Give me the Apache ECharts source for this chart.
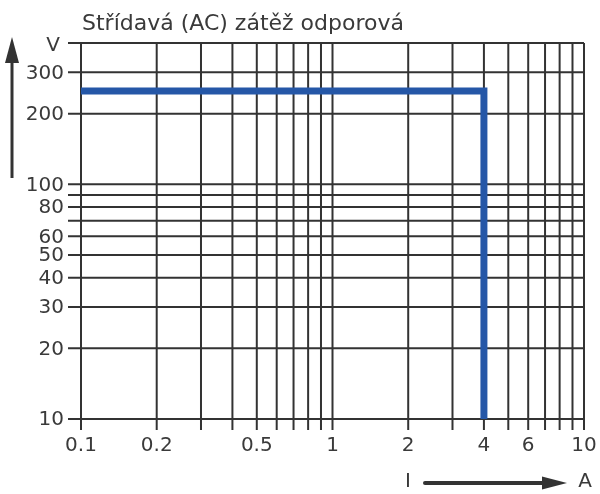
<!DOCTYPE html>
<html><head><meta charset="utf-8">
<script src="https://cdn.jsdelivr.net/npm/echarts@6/dist/echarts.min.js"></script>
<style>html,body{margin:0;padding:0;background:#fff}#c{width:600px;height:494px}</style>
</head><body><div id="c"></div>
<script>
const title = 'Střídavá (AC) zátěž odporová';
const xGrid = [0.1,0.2,0.3,0.4,0.5,0.6,0.7,0.8,0.9,1,2,3,4,5,6,7,8,9,10];
const yGrid = [10,20,30,40,50,60,70,80,90,100,200,300,400];
const xLabels = [0.1,0.2,0.5,1,2,4,6,10];
const yLabels = [10,20,30,40,50,60,80,100,200,300];
const yUnitValue = 400, yUnit = 'V';
const xName = 'I', xUnit = 'A';
const currentA = [0.1, 4, 4];
const voltageV = [250, 250, 10];

const FAM = '"DejaVu Sans", "Liberation Sans", Arial, sans-serif';
const FONT = '20px ' + FAM;
const TXT = '#3a3a3a';
const GRIDC = '#333';
const xMin = 0.1, xMax = 10, yMin = 10, yMax = 400;

const chart = echarts.init(document.getElementById('c'));
chart.setOption({
  animation: false,
  title: { text: title, left: 77, top: 8, textStyle: { fontFamily: FAM, fontSize: 22, fontWeight: 'normal', color: TXT } },
  grid: { left: 81, right: 16, top: 43, bottom: 75 },
  xAxis: { type: 'log', logBase: 10, min: xMin, max: xMax, axisLine:{show:false}, axisTick:{show:false}, axisLabel:{show:false}, splitLine:{show:false} },
  yAxis: { type: 'log', logBase: 10, min: yMin, max: yMax, axisLine:{show:false}, axisTick:{show:false}, axisLabel:{show:false}, splitLine:{show:false} },
  series: [
    { type: 'custom', z: 1, silent: true, clip: false,
      data: xGrid.map(v => [v, yMin]),
      renderItem: (params, api) => {
        const v = api.value(0);
        const t = api.coord([v, yMax]), b = api.coord([v, yMin]);
        return { type: 'line', shape: { x1: t[0], y1: t[1], x2: t[0], y2: b[1] + 11 }, style: { stroke: GRIDC, lineWidth: 2 } };
      } },
    { type: 'custom', z: 1, silent: true, clip: false,
      data: yGrid.map(v => [xMin, v]),
      renderItem: (params, api) => {
        const v = api.value(1);
        const l = api.coord([xMin, v]), r = api.coord([xMax, v]);
        return { type: 'line', shape: { x1: l[0] - 13, y1: l[1], x2: r[0], y2: l[1] }, style: { stroke: GRIDC, lineWidth: 2 } };
      } },
    { type: 'custom', z: 2, silent: true, clip: false,
      data: xLabels.map(v => [v, yMin]),
      renderItem: (params, api) => {
        const v = api.value(0);
        const p = api.coord([v, yMin]);
        return { type: 'text', x: p[0], y: p[1] + 27, style: { text: String(xLabels[params.dataIndex]), fill: TXT, font: FONT, textAlign: 'center', textVerticalAlign: 'middle' } };
      } },
    { type: 'custom', z: 2, silent: true, clip: false,
      data: yLabels.map(v => [xMin, v]).concat([[xMin, yUnitValue]]),
      renderItem: (params, api) => {
        const v = api.value(1);
        const p = api.coord([xMin, v]);
        const isU = params.dataIndex >= yLabels.length;
        const txt = isU ? yUnit : String(yLabels[params.dataIndex]);
        return { type: 'text', x: isU ? p[0] - 28 : p[0] - 17, y: p[1] + (isU ? 3 : 1), style: { text: txt, fill: TXT, font: FONT, textAlign: isU ? 'center' : 'right', textVerticalAlign: 'middle' } };
      } },
    { type: 'line', z: 5, symbol: 'none', silent: true,
      data: currentA.map((x, i) => [x, voltageV[i]]),
      lineStyle: { color: '#2557a7', width: 7, join: 'miter', cap: 'butt' } }
  ],
  graphic: [
    { type: 'line', shape: { x1: 12, y1: 178, x2: 12, y2: 60 }, style: { stroke: '#333', lineWidth: 3 } },
    { type: 'polygon', shape: { points: [[5, 63], [19, 63], [12, 37]] }, style: { fill: '#333' } },
    { type: 'text', x: 408, y: 482, style: { text: xName, fill: TXT, font: FONT, textAlign: 'center', textVerticalAlign: 'middle' } },
    { type: 'line', shape: { x1: 425, y1: 483, x2: 546, y2: 483 }, style: { stroke: '#333', lineWidth: 4, lineCap: 'round' } },
    { type: 'polygon', shape: { points: [[542, 476.5], [542, 489.5], [567, 483]] }, style: { fill: '#333' } },
    { type: 'text', x: 585, y: 482, style: { text: xUnit, fill: TXT, font: FONT, textAlign: 'center', textVerticalAlign: 'middle' } }
  ]
});
</script>
</body></html>
